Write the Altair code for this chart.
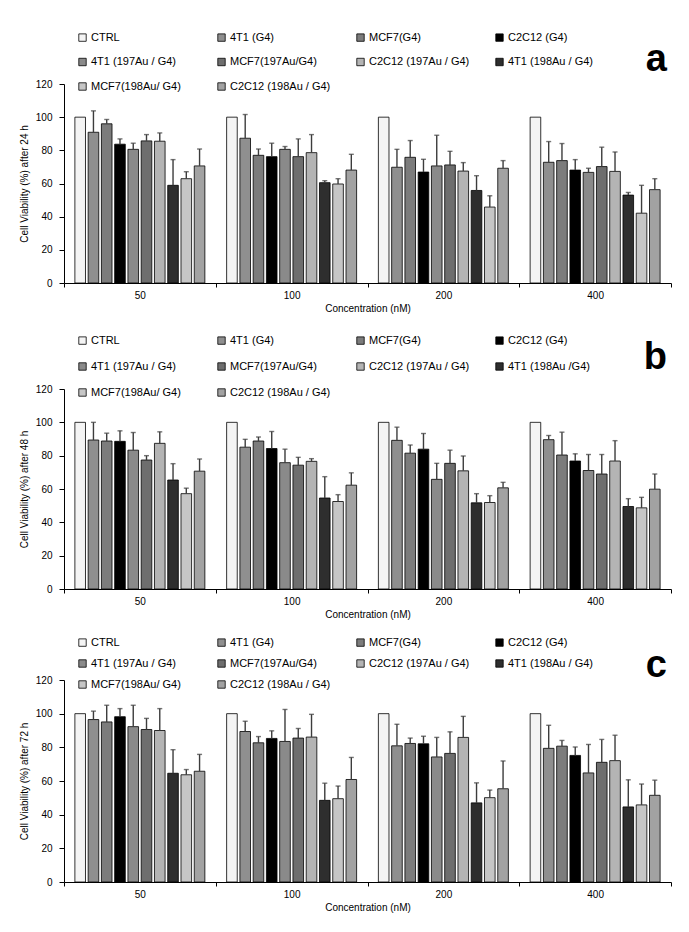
import altair as alt
import pandas as pd

FONT = "Liberation Sans"

concs = ["50", "100", "200", "400"]

series_24h = ["CTRL", "4T1 (G4)", "MCF7(G4)", "C2C12 (G4)", "4T1 (197Au / G4)",
              "MCF7(197Au/G4)", "C2C12 (197Au / G4)", "4T1 (198Au / G4)",
              "MCF7(198Au/ G4)", "C2C12 (198Au / G4)"]
series_48h = ["CTRL", "4T1 (G4)", "MCF7(G4)", "C2C12 (G4)", "4T1 (197Au / G4)",
              "MCF7(197Au/G4)", "C2C12 (197Au / G4)", "4T1 (198Au /G4)",
              "MCF7(198Au/ G4)", "C2C12 (198Au / G4)"]
series_72h = ["CTRL", "4T1 (G4)", "MCF7(G4)", "C2C12 (G4)", "4T1 (197Au / G4)",
              "MCF7(197Au/G4)", "C2C12 (197Au / G4)", "4T1 (198Au / G4)",
              "MCF7(198Au/ G4)", "C2C12 (198Au / G4)"]

# grey tones standing in for the hatch patterns
fills = ["#f4f4f4", "#8f8f8f", "#7c7c7c", "#000000", "#8a8a8a",
         "#6e6e6e", "#b4b4b4", "#2e2e2e", "#c6c6c6", "#a2a2a2"]

# ---- 24 h ----
mean_24h_50 = [100, 90.9, 96.0, 83.7, 80.6, 85.7, 85.5, 58.9, 62.9, 70.6]
sd_24h_50 = [0, 12.9, 2.6, 3.2, 3.7, 3.8, 5.0, 15.5, 4.2, 10.2]
mean_24h_100 = [100, 87.3, 77.0, 76.2, 80.6, 76.2, 78.6, 60.5, 59.7, 68.1]
sd_24h_100 = [0, 14.3, 3.8, 8.1, 1.7, 10.7, 10.9, 1.2, 3.2, 9.5]
mean_24h_200 = [100, 69.8, 75.8, 66.9, 70.6, 71.2, 67.5, 55.8, 45.8, 69.2]
sd_24h_200 = [0, 10.8, 10.1, 7.7, 18.5, 8.2, 5.1, 8.9, 6.8, 4.6]
mean_24h_400 = [100, 72.8, 73.8, 68.1, 66.7, 70.2, 67.3, 53.0, 42.1, 56.3]
sd_24h_400 = [0, 12.5, 10.3, 6.3, 2.5, 11.7, 11.7, 1.6, 16.8, 6.6]

# ---- 48 h ----
mean_48h_50 = [100, 89.4, 88.8, 88.6, 83.3, 77.4, 87.4, 65.4, 57.2, 70.7]
sd_48h_50 = [0, 10.6, 4.7, 6.3, 10.6, 2.6, 6.9, 9.8, 3.3, 7.3]
mean_48h_100 = [100, 85.1, 88.8, 84.3, 75.8, 74.3, 76.6, 54.6, 52.5, 62.3]
sd_48h_100 = [0, 4.7, 2.4, 10.2, 8.1, 4.7, 1.6, 12.8, 4.1, 7.4]
mean_48h_200 = [100, 89.2, 81.5, 83.9, 65.8, 75.4, 70.9, 51.7, 51.9, 60.7]
sd_48h_200 = [0, 7.9, 4.9, 9.4, 9.6, 7.9, 8.9, 5.5, 4.1, 3.3]
mean_48h_400 = [100, 89.6, 80.4, 76.8, 71.1, 69.0, 76.8, 49.5, 48.7, 59.9]
sd_48h_400 = [0, 2.5, 13.7, 4.3, 9.6, 11.7, 12.2, 4.7, 6.3, 9.1]

# ---- 72 h ----
mean_72h_50 = [100, 96.5, 95.1, 98.2, 92.3, 90.6, 90.0, 64.6, 63.7, 65.8]
sd_72h_50 = [0, 5.0, 9.9, 4.8, 12.7, 6.6, 13.0, 14.0, 3.1, 10.0]
mean_72h_100 = [100, 89.4, 82.7, 85.3, 83.5, 85.5, 86.1, 48.5, 49.5, 60.9]
sd_72h_100 = [0, 6.1, 3.7, 4.5, 19.0, 5.7, 13.5, 10.2, 7.5, 13.1]
mean_72h_200 = [100, 80.9, 82.3, 82.1, 74.3, 76.4, 85.9, 47.0, 50.1, 55.4]
sd_72h_200 = [0, 12.8, 3.2, 4.5, 11.6, 12.8, 12.5, 11.9, 4.5, 16.5]
mean_72h_400 = [100, 79.4, 80.7, 75.2, 64.8, 71.1, 72.1, 44.6, 45.8, 51.5]
sd_72h_400 = [0, 13.7, 3.4, 5.0, 16.9, 13.6, 15.1, 16.1, 12.4, 9.0]


def make_df(labels, means, sds):
    rows = []
    for c, m_list, s_list in zip(concs, means, sds):
        for i, (lab, m, s) in enumerate(zip(labels, m_list, s_list)):
            rows.append({"conc": c, "series": lab, "order": i,
                         "mean": m, "sd": s, "top": m + s})
    return pd.DataFrame(rows)


def panel(letter, hours, labels, means, sds, height, legend_y, row_pad, letter_y):
    df = make_df(labels, means, sds)
    x_axis = alt.Axis(title="Concentration (nM)", labelAngle=0,
                      tickBand="extent", tickSize=4, labelPadding=3,
                      titlePadding=3)
    x_scale = alt.Scale(paddingInner=0, paddingOuter=0)
    xo_scale = alt.Scale(paddingInner=0.2, paddingOuter=0.82)
    y_axis = alt.Axis(title=f"Cell Viability (%) after {hours} h",
                      values=[0, 20, 40, 60, 80, 100, 120], format="d",
                      tickSize=5, labelPadding=7, titlePadding=6,
                      labelOverlap=False)
    y_scale = alt.Scale(domain=[0, 120], nice=False)

    def xenc():
        return alt.X("conc:N", sort=concs, scale=x_scale, axis=x_axis)

    def xoenc():
        return alt.XOffset("series:N", sort=labels, scale=xo_scale)

    fill = alt.Fill("series:N", sort=labels,
                    scale=alt.Scale(domain=labels, range=fills),
                    legend=alt.Legend(title=None, orient="none",
                                      legendX=13, legendY=legend_y,
                                      direction="horizontal", columns=4,
                                      gridAlign="all", columnPadding=24,
                                      rowPadding=row_pad, symbolType="square",
                                      symbolSize=55, symbolStrokeColor="black",
                                      symbolStrokeWidth=0.8, labelFontSize=11,
                                      labelFont=FONT, labelColor="black",
                                      labelOffset=3, labelLimit=220))
    bars = alt.Chart(df).mark_bar(stroke="black", strokeWidth=0.8).encode(
        x=xenc(), xOffset=xoenc(),
        y=alt.Y("mean:Q", scale=y_scale, axis=y_axis), fill=fill)
    err_df = df[df["sd"] > 0]
    rules = alt.Chart(err_df).mark_rule(color="#3c3c3c", strokeWidth=1.4).encode(
        x=xenc(), xOffset=xoenc(),
        y=alt.Y("mean:Q", scale=y_scale, axis=y_axis), y2="top:Q")
    caps = alt.Chart(err_df).mark_tick(color="#3c3c3c", thickness=1.4, size=5,
                                       orient="horizontal").encode(
        x=xenc(), xOffset=xoenc(),
        y=alt.Y("top:Q", scale=y_scale, axis=y_axis))
    lab = alt.Chart(pd.DataFrame({"t": [letter]})).mark_text(
        font=FONT, fontSize=38, fontWeight="bold", align="right",
        baseline="alphabetic", color="black").encode(
        text="t:N", x=alt.value(603), y=alt.value(letter_y))
    return alt.layer(bars, rules, caps, lab).properties(width=607, height=height)


pa = panel("a", 24, series_24h,
           [mean_24h_50, mean_24h_100, mean_24h_200, mean_24h_400],
           [sd_24h_50, sd_24h_100, sd_24h_200, sd_24h_400],
           199, -52, 12.5, -13)
pb = panel("b", 48, series_48h,
           [mean_48h_50, mean_48h_100, mean_48h_200, mean_48h_400],
           [sd_48h_50, sd_48h_100, sd_48h_200, sd_48h_400],
           200, -54, 14, -20)
pc = panel("c", 72, series_72h,
           [mean_72h_50, mean_72h_100, mean_72h_200, mean_72h_400],
           [sd_72h_50, sd_72h_100, sd_72h_200, sd_72h_400],
           202, -43, 9, -3)

top_pair = alt.vconcat(pa, pb, spacing=22).resolve_scale(
    fill="independent", xOffset="independent").resolve_legend(
    fill="independent")
chart = alt.vconcat(top_pair, pc, spacing=18).resolve_scale(
    fill="independent", xOffset="independent").resolve_legend(
    fill="independent").properties(
    padding={"left": 11, "top": 24, "right": 5, "bottom": 5},
    background="white"
).configure_view(stroke=None).configure_axis(
    grid=False, domainColor="black", tickColor="black", labelColor="black",
    titleColor="black", labelFont=FONT, titleFont=FONT, labelFontSize=10,
    titleFontSize=10, titleFontWeight="normal", domainWidth=1, tickWidth=1
)

chart.save("out.html", embed_options={"renderer": "svg", "actions": False})
